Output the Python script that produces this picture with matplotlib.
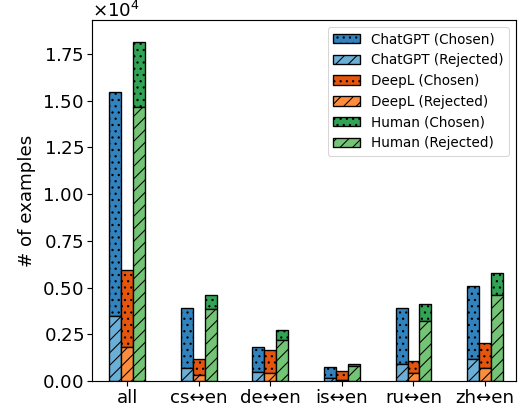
import numpy as np
import matplotlib.pyplot as plt
from matplotlib.ticker import ScalarFormatter, MultipleLocator

pairs = ['all', 'cs↔en', 'de↔en', 'is↔en', 'ru↔en', 'zh↔en']
systems = ['ChatGPT', 'DeepL', 'Human']

# totals (chosen + rejected) and rejected counts
chatgpt_total = [15450, 3890, 1840, 720, 3890, 5100]
chatgpt_rej = [3490, 710, 450, 180, 910, 1180]
deepl_total = [5960, 1190, 1640, 540, 1050, 2050]
deepl_rej = [1800, 320, 400, 60, 400, 680]
human_total = [18120, 4580, 2750, 880, 4100, 5780]
human_rej = [14640, 3840, 2200, 790, 3200, 4620]

totals = [chatgpt_total, deepl_total, human_total]
rejected = [chatgpt_rej, deepl_rej, human_rej]
chosen_colors = ['#3182bd', '#e6550d', '#31a354']
rejected_colors = ['#6baed6', '#fd8d3c', '#74c476']

DPI = 75
fig = plt.figure(figsize=(520 / DPI, 410 / DPI), dpi=DPI)
ax = fig.add_axes([0.177, 0.071, 0.815, 0.880])

x = np.arange(len(pairs))
w = 1 / 6
for i, name in enumerate(systems):
    tot = np.array(totals[i])
    rej = np.array(rejected[i])
    pos = x + (i - 1) * w
    ax.bar(pos, tot - rej, w, bottom=rej, color=chosen_colors[i], edgecolor='black',
           linewidth=1.3, hatch='..', label=f'{name} (Chosen)')
    ax.bar(pos, rej, w, color=rejected_colors[i], edgecolor='black',
           linewidth=1.3, hatch='//', label=f'{name} (Rejected)')

ax.set_xticks(x)
ax.set_xticklabels(pairs, fontsize=17.5)
ax.set_xlim(-0.49, 5.43)
ax.set_ylim(0, 19320)
ax.yaxis.set_major_locator(MultipleLocator(2500))
fmt = ScalarFormatter(useMathText=True)
fmt.set_powerlimits((0, 0))
ax.yaxis.set_major_formatter(fmt)
ax.yaxis.get_offset_text().set_fontsize(17.5)
ax.tick_params(axis='both', labelsize=17.5, width=1.1, length=4.5)
for s in ax.spines.values():
    s.set_linewidth(1.1)
ax.set_ylabel('# of examples', fontsize=17.5, labelpad=6)

ax.legend(loc='upper right', fontsize=13)

fig.savefig('out.png', dpi=DPI)
